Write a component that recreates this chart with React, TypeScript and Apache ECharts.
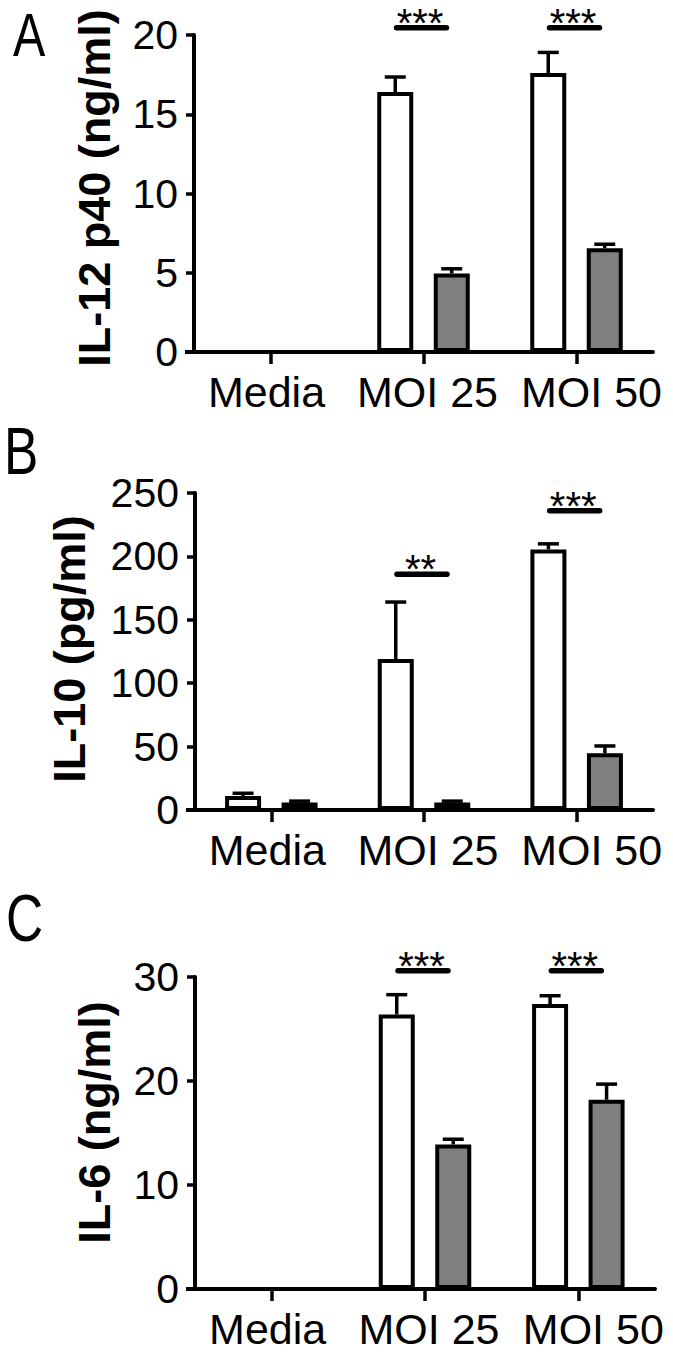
import React, { useEffect, useRef } from "react";
import * as echarts from "echarts";

// ---------- data ----------
const categories = ["Media", "MOI 25", "MOI 50"];

// Panel A: IL-12 p40 (ng/ml)
const il12Open = [0, 16.4, 17.6];
const il12OpenErr = [0, 0.95, 1.3];
const il12Filled = [0, 4.95, 6.55];
const il12FilledErr = [0, 0.3, 0.25];
const il12Sig: [number, number, string][] = [
  [1, 20.45, "***"],
  [2, 20.45, "***"],
];

// Panel B: IL-10 (pg/ml)
const il10Open = [11, 119, 205.5];
const il10OpenErr = [2.2, 45, 4.4];
const il10Filled = [6, 6, 44.7];
const il10FilledErr = [1, 1, 5.8];
const il10Sig: [number, number, string][] = [
  [1, 186, "**"],
  [2, 236, "***"],
];

// Panel C: IL-6 (ng/ml)
const il6Open = [0, 26.4, 27.4];
const il6OpenErr = [0, 1.9, 0.8];
const il6Filled = [0, 13.9, 18.2];
const il6FilledErr = [0, 0.5, 1.5];
const il6Sig: [number, number, string][] = [
  [1, 30.6, "***"],
  [2, 30.6, "***"],
];

const yTicksA = [0, 20, 5];
const yTicksB = [0, 250, 50];
const yTicksC = [0, 30, 10];

// ---------- layout / style ----------
const FONT = "'Liberation Sans', Arial, Helvetica, sans-serif";
const BAR_W = 36;
const BAR_GAP = 20.5;
const BAR_OFFSET = (BAR_W + BAR_GAP) / 2;
const LW = 3.5;
const BORDER = 4;

const panels = [
  {
    letter: "A",
    title: "IL-12 p40 (ng/ml)",
    open: il12Open, openErr: il12OpenErr, filled: il12Filled, filledErr: il12FilledErr,
    sig: il12Sig, ticks: yTicksA,
    grid: { left: 194, top: 35, width: 459, height: 317 },
    nameGap: 77, namePad: 11, letterPos: [13, 35], letterSize: 62,
  },
  {
    letter: "B",
    title: "IL-10 (pg/ml)",
    open: il10Open, openErr: il10OpenErr, filled: il10Filled, filledErr: il10FilledErr,
    sig: il10Sig, ticks: yTicksB,
    grid: { left: 195, top: 493, width: 458, height: 317 },
    nameGap: 103, namePad: 5, letterPos: [4, 451], letterSize: 66,
  },
  {
    letter: "C",
    title: "IL-6 (ng/ml)",
    open: il6Open, openErr: il6OpenErr, filled: il6Filled, filledErr: il6FilledErr,
    sig: il6Sig, ticks: yTicksC,
    grid: { left: 195, top: 977, width: 460, height: 312 },
    nameGap: 78, namePad: 21, letterPos: [6, 918], letterSize: 66,
  },
];

const labelRich = {
  c0: { fontSize: 43, fontFamily: FONT, color: "#000", padding: [0, 8, 0, 0] },
  c1: { fontSize: 43, fontFamily: FONT, color: "#000", padding: [0, 0, 0, 8] },
  c2: { fontSize: 43, fontFamily: FONT, color: "#000", padding: [0, 0, 0, 30] },
};

function buildOption() {
  const grid: any[] = [];
  const xAxis: any[] = [];
  const yAxis: any[] = [];
  const series: any[] = [];
  const graphic: any[] = [];

  panels.forEach((p, i) => {
    grid.push({ ...p.grid, containLabel: false });
    xAxis.push({
      type: "category",
      gridIndex: i,
      data: categories,
      axisLine: { show: true, lineStyle: { color: "#000", width: 4 } },
      axisTick: { show: true, alignWithLabel: true, length: 12, lineStyle: { color: "#000", width: LW } },
      axisLabel: {
        interval: 0,
        color: "#000",
        fontSize: 43,
        fontFamily: FONT,
        margin: 18,
        formatter: (value: string, idx: number) => `{c${idx}|${value}}`,
        rich: labelRich,
      },
      splitLine: { show: false },
    });
    yAxis.push({
      type: "value",
      gridIndex: i,
      min: p.ticks[0],
      max: p.ticks[1],
      interval: p.ticks[2],
      name: p.title,
      nameLocation: "middle",
      nameGap: p.nameGap,
      nameTextStyle: {
        color: "#000",
        fontSize: 45,
        fontWeight: "bold",
        fontFamily: FONT,
        padding: [0, 0, 0, p.namePad],
      },
      axisLine: { show: true, lineStyle: { color: "#000", width: 4 } },
      axisTick: { show: true, length: 8, lineStyle: { color: "#000", width: LW } },
      axisLabel: { color: "#000", fontSize: 41, fontFamily: FONT, margin: 16 },
      splitLine: { show: false },
    });

    series.push({
      type: "bar",
      name: "Open",
      xAxisIndex: i,
      yAxisIndex: i,
      data: p.open,
      barWidth: BAR_W,
      barGap: (BAR_GAP / BAR_W) * 100 + "%",
      itemStyle: { color: "#ffffff", borderColor: "#000", borderWidth: BORDER },
      z: 3,
    });
    series.push({
      type: "bar",
      name: "Filled",
      xAxisIndex: i,
      yAxisIndex: i,
      data: p.filled,
      barWidth: BAR_W,
      barGap: (BAR_GAP / BAR_W) * 100 + "%",
      itemStyle: { color: "#7f7f7f", borderColor: "#000", borderWidth: BORDER },
      z: 3,
    });

    const errData: number[][] = [];
    categories.forEach((_, k) => {
      errData.push([k, p.open[k], p.openErr[k], -1]);
      errData.push([k, p.filled[k], p.filledErr[k], 1]);
    });
    series.push({
      type: "custom",
      xAxisIndex: i,
      yAxisIndex: i,
      data: errData,
      z: 1,
      renderItem: (params: any, api: any) => {
        const k = api.value(0);
        const v = api.value(1);
        const e = api.value(2);
        const side = api.value(3);
        if (!(e > 0)) return null;
        const base = api.coord([k, v]);
        const top = api.coord([k, v + e]);
        const x = base[0] + side * BAR_OFFSET;
        return {
          type: "group",
          children: [
            { type: "line", shape: { x1: x, y1: base[1], x2: x, y2: top[1] }, style: { stroke: "#000", lineWidth: LW } },
            { type: "line", shape: { x1: x - 10.5, y1: top[1], x2: x + 10.5, y2: top[1] }, style: { stroke: "#000", lineWidth: LW } },
          ],
        };
      },
    });

    const sig = p.sig;
    series.push({
      type: "custom",
      xAxisIndex: i,
      yAxisIndex: i,
      data: sig.map((s) => [s[0], s[1]]),
      clip: false,
      z: 5,
      renderItem: (params: any, api: any) => {
        const pt = api.coord([api.value(0), api.value(1)]);
        const label = sig[params.dataIndex][2];
        return {
          type: "group",
          children: [
            {
              type: "line",
              shape: { x1: pt[0] - 27, y1: pt[1], x2: pt[0] + 23, y2: pt[1] },
              style: { stroke: "#000", lineWidth: 5.5, lineCap: "round" },
            },
            {
              type: "text",
              style: {
                text: label,
                x: pt[0] - 3.5,
                y: pt[1] - 5,
                align: "center",
                verticalAlign: "middle",
                fontSize: 40,
                fontFamily: FONT,
                fill: "#000",
              },
            },
          ],
        };
      },
    });

    const g = p.grid;
    graphic.push({
      type: "line",
      shape: { x1: g.left - 9, y1: g.top + g.height, x2: g.left, y2: g.top + g.height },
      style: { stroke: "#000", lineWidth: 4 },
      z: 10,
    });
    graphic.push({
      type: "text",
      x: p.letterPos[0],
      y: p.letterPos[1],
      scaleX: 0.78,
      style: {
        text: p.letter,
        fontSize: p.letterSize,
        fontFamily: FONT,
        fill: "#000",
        align: "left",
        verticalAlign: "middle",
      },
    });
  });

  return {
    animation: false,
    backgroundColor: "#ffffff",
    grid,
    xAxis,
    yAxis,
    series,
    graphic,
  };
}

export default function App() {
  const ref = useRef<HTMLDivElement>(null);
  useEffect(() => {
    if (!ref.current) return;
    const chart = echarts.init(ref.current, undefined, { renderer: "svg" });
    chart.setOption(buildOption() as any);
    return () => chart.dispose();
  }, []);
  return (
    <div
      ref={ref}
      style={{ position: "absolute", left: 0, top: 0, width: 673, height: 1353, background: "#fff" }}
    />
  );
}
